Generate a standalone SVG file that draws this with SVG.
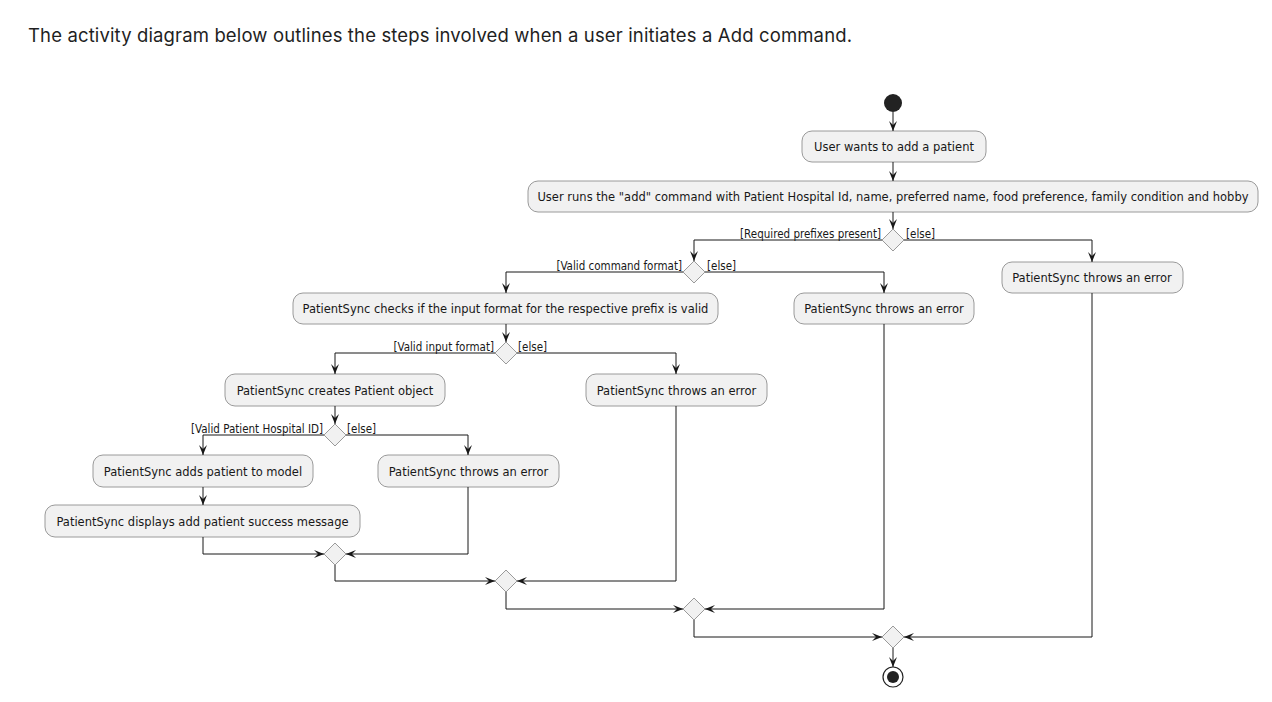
<svg xmlns="http://www.w3.org/2000/svg" width="1272" height="702" viewBox="0 0 1272 702">
<style>
.node rect{fill:#F1F1F1;stroke:#9a9a9a;stroke-width:1}
.node text{font-family:"DejaVu Sans",sans-serif;font-size:11.5px;fill:#181818;text-anchor:middle}
.dia{fill:#F1F1F1;stroke:#9a9a9a;stroke-width:1}
.conn path{fill:none;stroke:#181818;stroke-width:1}
.lbl{font-family:"DejaVu Sans Condensed","DejaVu Sans",sans-serif;font-size:11.5px;fill:#181818}
.r{text-anchor:end}
.head{font-family:Inter,"Noto Sans",sans-serif;font-size:18.5px;fill:#1f1f1f}
</style>
<defs>
<marker id="a" viewBox="0 0 10 10" refX="10" refY="5" markerWidth="10" markerHeight="10" markerUnits="userSpaceOnUse" orient="auto">
<path d="M0,1 L10,5 L0,9 L4,5 Z" fill="#181818"/>
</marker>
</defs>
<rect width="1272" height="702" fill="#fff"/>
<text class="head" x="28" y="42" textLength="824" lengthAdjust="spacing">The activity diagram below outlines the steps involved when a user initiates a Add command.</text>

<g id="start"><circle cx="893" cy="103" r="9" fill="#222"/></g>
<g id="n1" class="node"><rect x="802" y="131" width="184" height="31" rx="10"/><text x="894" y="151">User wants to add a patient</text></g>
<g id="n2" class="node"><rect x="528" y="181" width="730" height="31" rx="10"/><text x="893" y="201">User runs the "add" command with Patient Hospital Id, name, preferred name, food preference, family condition and hobby</text></g>
<g id="d1"><polygon class="dia" points="893,229 904,240 893,251 882,240"/></g>
<g id="e1" class="node"><rect x="1002" y="262" width="181" height="31" rx="10"/><text x="1092" y="282">PatientSync throws an error</text></g>
<g id="d2"><polygon class="dia" points="694,261 705,272 694,283 683,272"/></g>
<g id="n3" class="node"><rect x="293" y="293" width="425" height="31" rx="10"/><text x="505.5" y="313">PatientSync checks if the input format for the respective prefix is valid</text></g>
<g id="e2" class="node"><rect x="794" y="293" width="180" height="31" rx="10"/><text x="884" y="313">PatientSync throws an error</text></g>
<g id="d3"><polygon class="dia" points="506,342 517,353 506,364 495,353"/></g>
<g id="n4" class="node"><rect x="225" y="374" width="220" height="32" rx="10"/><text x="335" y="395">PatientSync creates Patient object</text></g>
<g id="e3" class="node"><rect x="586" y="374" width="181" height="32" rx="10"/><text x="676.5" y="395">PatientSync throws an error</text></g>
<g id="d4"><polygon class="dia" points="335,424 346,435 335,446 324,435"/></g>
<g id="n5" class="node"><rect x="93" y="455" width="220" height="32" rx="10"/><text x="203" y="476">PatientSync adds patient to model</text></g>
<g id="e4" class="node"><rect x="378" y="455" width="181" height="32" rx="10"/><text x="468.5" y="476">PatientSync throws an error</text></g>
<g id="n6" class="node"><rect x="45" y="505" width="315" height="32" rx="10"/><text x="202.5" y="526">PatientSync displays add patient success message</text></g>
<g id="m1"><polygon class="dia" points="335,543 346,554 335,565 324,554"/></g>
<g id="m2"><polygon class="dia" points="506,570 517,581 506,592 495,581"/></g>
<g id="m3"><polygon class="dia" points="694,598 705,609 694,620 683,609"/></g>
<g id="m4"><polygon class="dia" points="893,626 904,637 893,648 882,637"/></g>
<g id="end"><circle cx="893" cy="677" r="10" fill="#fff" stroke="#222" stroke-width="1.2"/><circle cx="893" cy="677" r="6" fill="#222"/></g>

<g id="connectors" class="conn">
<path d="M893,112 V131" marker-end="url(#a)"/>
<path d="M893,162 V181" marker-end="url(#a)"/>
<path d="M893,212 V229" marker-end="url(#a)"/>
<path d="M882,240 H694 V261" marker-end="url(#a)"/>
<path d="M904,240 H1092 V262" marker-end="url(#a)"/>
<path d="M683,272 H506 V293" marker-end="url(#a)"/>
<path d="M705,272 H884 V293" marker-end="url(#a)"/>
<path d="M506,324 V342" marker-end="url(#a)"/>
<path d="M495,353 H335 V374" marker-end="url(#a)"/>
<path d="M517,353 H676 V374" marker-end="url(#a)"/>
<path d="M335,406 V424" marker-end="url(#a)"/>
<path d="M324,435 H203 V455" marker-end="url(#a)"/>
<path d="M346,435 H468 V455" marker-end="url(#a)"/>
<path d="M203,487 V505" marker-end="url(#a)"/>
<path d="M203,537 V554 H324" marker-end="url(#a)"/>
<path d="M468,487 V554 H346" marker-end="url(#a)"/>
<path d="M335,565 V581 H495" marker-end="url(#a)"/>
<path d="M676,406 V581 H517" marker-end="url(#a)"/>
<path d="M506,592 V609 H683" marker-end="url(#a)"/>
<path d="M884,324 V609 H705" marker-end="url(#a)"/>
<path d="M694,620 V637 H882" marker-end="url(#a)"/>
<path d="M1092,293 V637 H904" marker-end="url(#a)"/>
<path d="M893,648 V667" marker-end="url(#a)"/>
<text class="lbl r" x="881" y="238">[Required prefixes present]</text>
<text class="lbl" x="906" y="238">[else]</text>
<text class="lbl r" x="682" y="270">[Valid command format]</text>
<text class="lbl" x="707" y="270">[else]</text>
<text class="lbl r" x="494" y="351">[Valid input format]</text>
<text class="lbl" x="518" y="351">[else]</text>
<text class="lbl r" x="323" y="433">[Valid Patient Hospital ID]</text>
<text class="lbl" x="347" y="433">[else]</text>
</g>
</svg>
